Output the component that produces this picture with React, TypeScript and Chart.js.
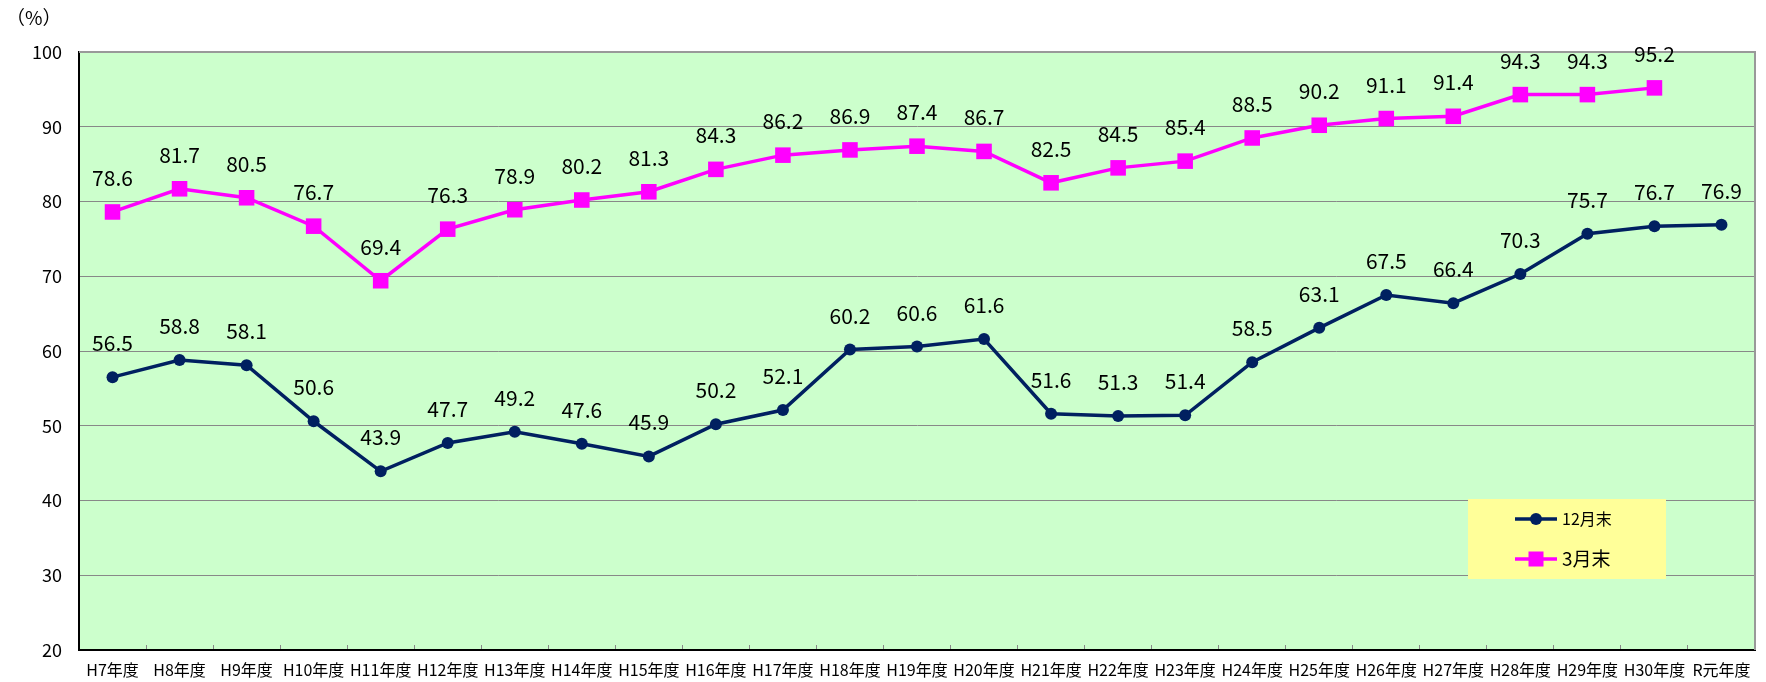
import React, { useEffect, useRef } from "react";
import { Chart, registerables } from "chart.js";

Chart.register(...registerables);

const categories = [
  "H7年度", "H8年度", "H9年度", "H10年度", "H11年度", "H12年度", "H13年度",
  "H14年度", "H15年度", "H16年度", "H17年度", "H18年度", "H19年度", "H20年度",
  "H21年度", "H22年度", "H23年度", "H24年度", "H25年度", "H26年度", "H27年度",
  "H28年度", "H29年度", "H30年度", "R元年度",
];

const decValues = [
  56.5, 58.8, 58.1, 50.6, 43.9, 47.7, 49.2, 47.6, 45.9, 50.2, 52.1, 60.2, 60.6,
  61.6, 51.6, 51.3, 51.4, 58.5, 63.1, 67.5, 66.4, 70.3, 75.7, 76.7, 76.9,
];

const marValues: (number | null)[] = [
  78.6, 81.7, 80.5, 76.7, 69.4, 76.3, 78.9, 80.2, 81.3, 84.3, 86.2, 86.9, 87.4,
  86.7, 82.5, 84.5, 85.4, 88.5, 90.2, 91.1, 91.4, 94.3, 94.3, 95.2, null,
];

const seriesNames = ["12月末", "3月末"];
const yTicks = [20, 30, 40, 50, 60, 70, 80, 90, 100];
const unitLabel = "（%）";

const FONT = '"Noto Sans CJK JP", "Noto Sans", sans-serif';
const NAVY = "#002060";
const MAGENTA = "#FF00FF";

const bgPlugin = {
  id: "bgPlugin",
  beforeDraw(chart: any) {
    const { ctx, chartArea: a } = chart;
    ctx.save();
    ctx.fillStyle = "#CCFFCC";
    ctx.fillRect(a.left, a.top, a.right - a.left, a.bottom - a.top);
    ctx.restore();
  },
  beforeDatasetsDraw(chart: any) {
    const { ctx, chartArea: a } = chart;
    ctx.save();
    ctx.strokeStyle = "#999999";
    ctx.lineWidth = 2;
    ctx.beginPath();
    ctx.moveTo(a.left, a.top);
    ctx.lineTo(a.right, a.top);
    ctx.lineTo(a.right, a.bottom);
    ctx.stroke();
    ctx.restore();
  },
};

const labelPlugin = {
  id: "labelPlugin",
  afterDatasetsDraw(chart: any) {
    const { ctx } = chart;
    ctx.save();
    ctx.font = `21px ${FONT}`;
    ctx.fillStyle = "#000000";
    ctx.textAlign = "center";
    ctx.textBaseline = "alphabetic";
    chart.data.datasets.forEach((ds: any, i: number) => {
      const meta = chart.getDatasetMeta(i);
      meta.data.forEach((el: any, j: number) => {
        const v = ds.data[j];
        if (v === null || v === undefined) return;
        ctx.fillText(Number(v).toFixed(1), el.x, el.y - 26);
      });
    });
    ctx.restore();
  },
};

const legendPlugin = {
  id: "legendPlugin",
  afterDraw(chart: any) {
    const { ctx } = chart;
    ctx.save();
    // unit label
    ctx.font = `19px ${FONT}`;
    ctx.fillStyle = "#000";
    ctx.textAlign = "left";
    ctx.textBaseline = "middle";
    ctx.fillText(unitLabel, 6, 18);

    // legend box
    ctx.fillStyle = "#FFFF99";
    ctx.fillRect(1468, 499, 198, 80);
    const items = [
      { y: 519, color: NAVY, style: "circle", font: 16 },
      { y: 559, color: MAGENTA, style: "rect", font: 19 },
    ];
    items.forEach((it, i) => {
      ctx.strokeStyle = it.color;
      ctx.lineWidth = 3.5;
      ctx.beginPath();
      ctx.moveTo(1515, it.y);
      ctx.lineTo(1557, it.y);
      ctx.stroke();
      ctx.fillStyle = it.color;
      if (it.style === "circle") {
        ctx.beginPath();
        ctx.arc(1536, it.y, 6, 0, Math.PI * 2);
        ctx.fill();
      } else {
        ctx.fillRect(1536 - 7.5, it.y - 7.5, 15, 15);
      }
      ctx.fillStyle = "#000";
      ctx.font = `${it.font}px ${FONT}`;
      ctx.textAlign = "left";
      ctx.textBaseline = "middle";
      ctx.fillText(seriesNames[i], 1562, it.y);
    });
    ctx.restore();
  },
};

export default function App() {
  const ref = useRef<HTMLCanvasElement | null>(null);

  useEffect(() => {
    document.body.style.margin = "0";
    if (!ref.current) return;
    const chart = new Chart(ref.current, {
      type: "line",
      data: {
        labels: categories,
        datasets: [
          {
            label: seriesNames[0],
            data: decValues,
            borderColor: NAVY,
            backgroundColor: NAVY,
            borderWidth: 3.5,
            pointStyle: "circle",
            pointRadius: 6,
            pointBorderWidth: 0,
            tension: 0,
          },
          {
            label: seriesNames[1],
            data: marValues,
            borderColor: MAGENTA,
            backgroundColor: MAGENTA,
            borderWidth: 3.5,
            pointStyle: "rect",
            pointRadius: 11,
            pointBorderWidth: 0,
            tension: 0,
            spanGaps: false,
          },
        ],
      },
      options: {
        responsive: false,
        animation: false,
        layout: { padding: { left: 0, top: 52, right: 6, bottom: 0 } },
        plugins: {
          legend: { display: false },
          tooltip: { enabled: false },
          title: { display: false },
        },
        scales: {
          x: {
            type: "category",
            offset: true,
            grid: {
              offset: true,
              drawOnChartArea: false,
              drawTicks: true,
              tickLength: -5,
              color: "#888888",
              lineWidth: 1,
            },
            border: { display: true, color: "#000000", width: 2 },
            ticks: {
              font: { family: FONT, size: 16 },
              color: "#000000",
              padding: 15,
              maxRotation: 0,
              autoSkip: false,
            },
            afterFit: (s: any) => {
              s.height = 32;
            },
          },
          y: {
            min: 20,
            max: 100,
            afterBuildTicks: (s: any) => {
              s.ticks = yTicks.map((v) => ({ value: v }));
            },
            grid: {
              drawTicks: false,
              color: "#888888",
              lineWidth: 1,
            },
            border: { display: true, color: "#000000", width: 2 },
            ticks: {
              font: { family: FONT, size: 18 },
              color: "#000000",
              padding: 17,
            },
            afterFit: (s: any) => {
              s.width = 79;
            },
          },
        },
      },
      plugins: [bgPlugin, labelPlugin, legendPlugin],
    });
    return () => chart.destroy();
  }, []);

  return (
    <div style={{ position: "fixed", left: 0, top: 0, width: 1766, height: 682 }}>
      <canvas ref={ref} width={1766} height={682} style={{ display: "block" }} />
    </div>
  );
}
